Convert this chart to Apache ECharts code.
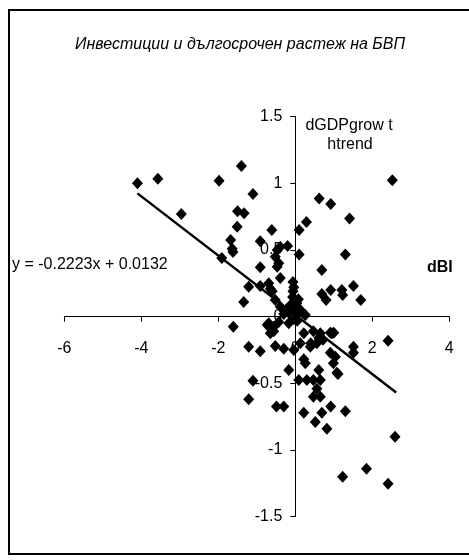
<!DOCTYPE html>
<html>
<head>
<meta charset="utf-8">
<script src="https://cdn.jsdelivr.net/npm/echarts@6/dist/echarts.min.js"></script>
<style>
html,body{margin:0;padding:0;background:#fff;}
#c{width:469px;height:560px;}
</style>
</head>
<body>
<div id="c"></div>
<script>
// Chart data
const titleText = 'Инвестиции и дългосрочен растеж на БВП';
const yName = ['dGDPgrow t', 'htrend'];
const xName = 'dBI';
const equationText = 'y = -0.2223x + 0.0132';
const xTicks = [-6, -4, -2, 0, 2, 4];
const yTicks = [-1.5, -1, -0.5, 0, 0.5, 1, 1.5];

const dBI = [
  -4.10, -3.57, -2.96, -1.98, -1.40, -1.10, -1.50, -1.33, -1.51, -1.68,
  -1.64, -1.62, -1.91, -0.91, -0.61, -0.91, -0.47, -0.39, -0.20, -0.52,
  -0.43, -0.47, -0.39, -1.21, -0.91, -0.69, -0.65, -0.06, -0.04, -0.06,
  -1.34, -0.60, -0.52, -0.39,
  0.10, 0.29, 0.10, 0.62, 0.92, 1.41, 2.52, 1.30, 0.69, 0.69,
  0.80, 0.92, 1.21, 1.23, 1.51, 1.70,
  -0.07, 0.04, 0.00, 0.13, 0.26, -0.21, -0.17, -0.30, -0.04, 0.04,
  0.20, -0.12, 0.08,
  -0.69, -0.43, -0.17, -0.73, -0.56, -0.65, -0.56, -0.04, 0.05, 0.22,
  0.47, 0.65, 0.95, 0.56, 0.39, 0.22, 0.26, 0.91, 1.04, 0.99,
  1.08, 1.51, 1.51, 0.61, 0.65, 0.47, 0.30, 0.09, 0.56, 0.65,
  0.47, -0.17, -0.52, -0.30, -0.04, -1.61, -1.21, -0.91, -1.10, -1.21,
  -0.49, -0.30, 0.22, 0.69, 0.92, 1.30, 0.52, 0.82, 2.59, 1.85,
  1.23, 2.41, 2.41, 0.91, 0.61, 0.72, 0.13, 1.11, 1.00, 0.40
];
const dGDPgrowthTrend = [
  1.00, 1.035, 0.77, 1.02, 1.13, 0.92, 0.79, 0.775, 0.675, 0.575,
  0.51, 0.485, 0.44, 0.565, 0.65, 0.37, 0.50, 0.525, 0.53, 0.45,
  0.40, 0.375, 0.29, 0.225, 0.23, 0.25, 0.21, 0.26, 0.22, 0.19,
  0.11, 0.19, 0.125, 0.075,
  0.65, 0.71, 0.467, 0.887, 0.845, 0.737, 1.024, 0.467, 0.35, 0.17,
  0.125, 0.20, 0.20, 0.162, 0.23, 0.125,
  0.147, 0.10, 0.063, 0.05, 0.013, 0.06, 0.03, 0.02, 0.04, 0.02,
  0.025, 0.09, 0.13,
  -0.05, -0.04, -0.05, -0.062, -0.075, -0.125, -0.11, -0.02, -0.03, -0.125,
  -0.11, -0.125, -0.125, -0.20, -0.225, -0.32, -0.35, -0.27, -0.30, -0.35,
  -0.42, -0.225, -0.27, -0.40, -0.474, -0.474, -0.474, -0.474, -0.54, -0.60,
  -0.60, -0.40, -0.22, -0.24, -0.25, -0.075, -0.225, -0.26, -0.48, -0.62,
  -0.674, -0.674, -0.72, -0.72, -0.674, -0.71, -0.79, -0.84, -0.90, -1.14,
  -1.20, -1.253, -0.18, -0.12, -0.16, -0.173, -0.20, -0.43, -0.12, -0.20
];
// Trendline end points (as drawn, along y = -0.2223x + 0.0132)
const trendX = [-4.10, 2.62];
const trendY = [0.925, -0.569];

const points = dBI.map((x, i) => [x, dGDPgrowthTrend[i]]);
const trend = trendX.map((x, i) => [x, trendY[i]]);

const FONT = 'Liberation Sans, Arial, sans-serif';
const G = {left: 64.3, right: 19.7, top: 116.7, bottom: 43.3};
const W = 469, H = 560;
const gw = W - G.left - G.right, gh = H - G.top - G.bottom;
// axes cross at origin: shift each axis from the grid edge to the zero line
const xAxisOffset = -gh * (0 - yTicks[0]) / (yTicks[yTicks.length - 1] - yTicks[0]);
const yAxisOffset = -gw * (0 - xTicks[0]) / (xTicks[xTicks.length - 1] - xTicks[0]);

const chart = echarts.init(document.getElementById('c'), null, {renderer: 'canvas'});
chart.setOption({
  animation: false,
  backgroundColor: '#ffffff',
  grid: Object.assign({containLabel: false}, G),
  xAxis: {
    type: 'value', min: xTicks[0], max: xTicks[xTicks.length - 1], interval: 2,
    position: 'bottom', offset: xAxisOffset,
    axisLine: {onZero: false, lineStyle: {color: '#000', width: 1}},
    axisTick: {show: true, inside: false, length: 5, lineStyle: {color: '#000'}},
    axisLabel: {color: '#000', fontSize: 16, fontFamily: FONT, margin: 24,
      showMinLabel: true, showMaxLabel: true},
    splitLine: {show: false}
  },
  yAxis: {
    type: 'value', min: yTicks[0], max: yTicks[yTicks.length - 1], interval: 0.5,
    position: 'left', offset: yAxisOffset,
    axisLine: {onZero: false, lineStyle: {color: '#000', width: 1}},
    axisTick: {show: true, inside: false, length: 5, lineStyle: {color: '#000'}},
    axisLabel: {color: '#000', fontSize: 16, fontFamily: FONT, margin: 13,
      showMinLabel: true, showMaxLabel: true},
    splitLine: {show: false}
  },
  series: [
    {
      type: 'scatter', data: points, symbol: 'diamond', symbolSize: [11, 12],
      itemStyle: {color: '#000', opacity: 1}, z: 3, silent: true
    },
    {
      type: 'line', data: trend, symbol: 'none', z: 4, silent: true,
      lineStyle: {color: '#000', width: 2.5, opacity: 1}
    }
  ],
  graphic: [
    {type: 'rect', shape: {x: 9, y: 10, width: 470, height: 544}, z: 0,
      style: {fill: 'none', stroke: '#000', lineWidth: 2}},
    {type: 'text', x: 240, y: 45, z: 10, style: {text: titleText, fill: '#000',
      font: 'italic 16px ' + FONT, textAlign: 'center', textVerticalAlign: 'middle'}},
    {type: 'text', x: 349, y: 126, z: 10, style: {text: yName[0], fill: '#000',
      font: '16px ' + FONT, textAlign: 'center', textVerticalAlign: 'middle'}},
    {type: 'text', x: 350, y: 145, z: 10, style: {text: yName[1], fill: '#000',
      font: '16px ' + FONT, textAlign: 'center', textVerticalAlign: 'middle'}},
    {type: 'text', x: 12, y: 265, z: 10, style: {text: equationText, fill: '#000',
      font: '16px ' + FONT, textAlign: 'left', textVerticalAlign: 'middle'}},
    {type: 'text', x: 427, y: 268, z: 10, style: {text: xName, fill: '#000',
      font: 'bold 16px ' + FONT, textAlign: 'left', textVerticalAlign: 'middle'}}
  ]
});
</script>
</body>
</html>
